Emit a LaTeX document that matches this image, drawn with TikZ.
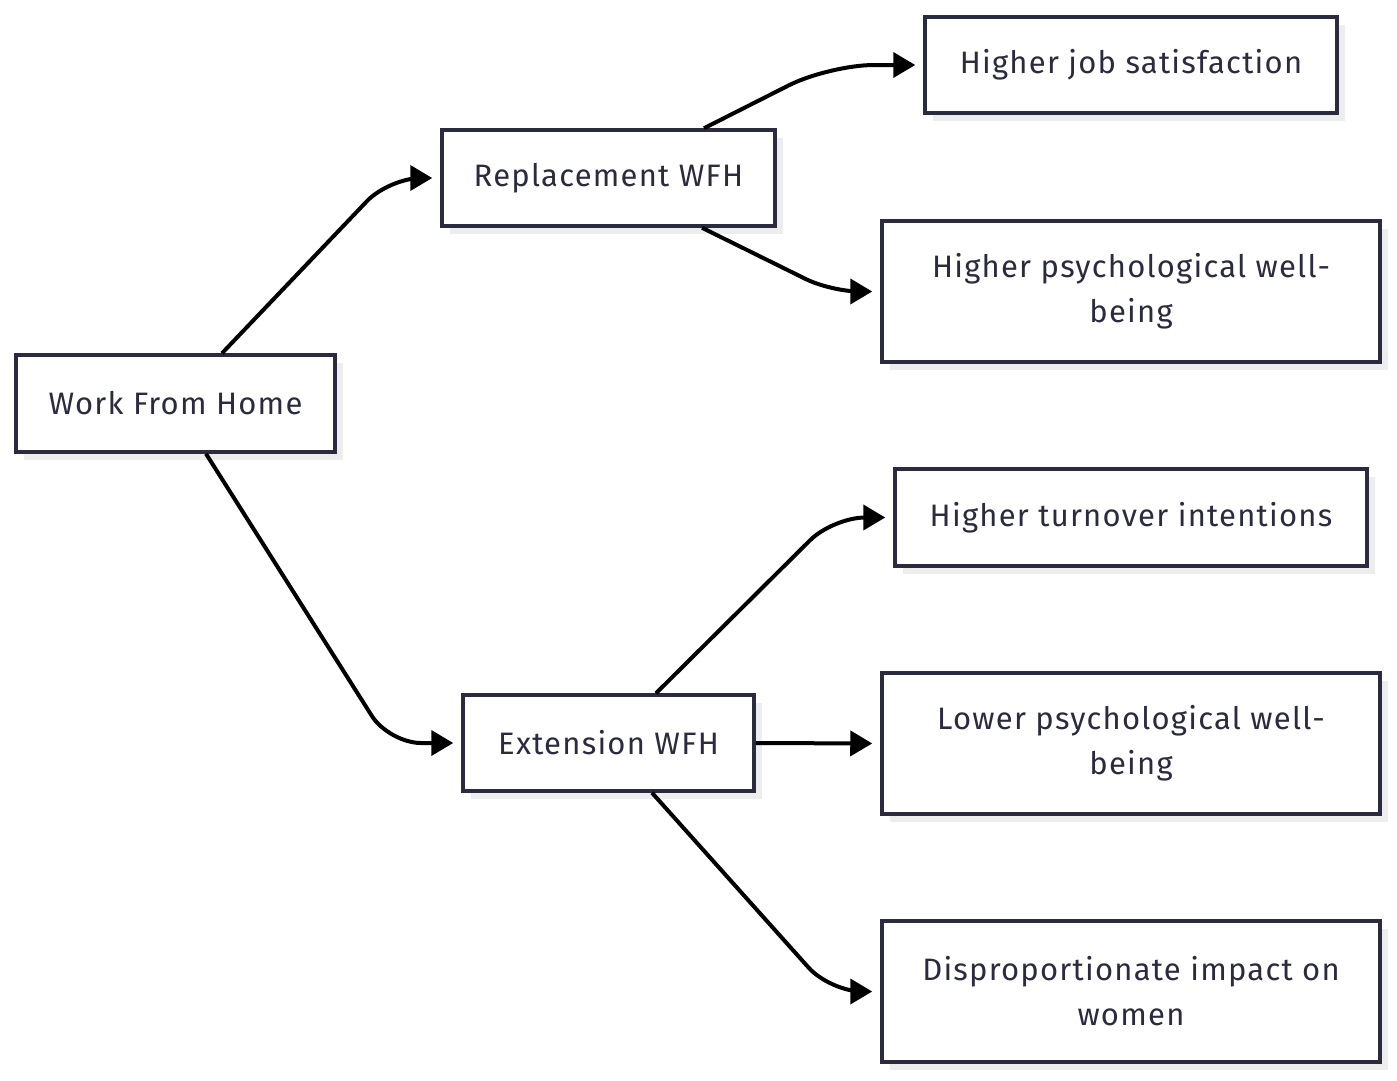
\documentclass[tikz,border=0pt]{standalone}
\usepackage{fontspec}
\setmainfont{Fira Sans}[LetterSpace=4]
\usetikzlibrary{arrows.meta,calc,shadows}
\definecolor{ink}{HTML}{2B2B40}
\definecolor{shade}{HTML}{EDEDED}
\begin{document}
\begin{tikzpicture}[x=1pt,y=-1pt,
  box/.style={draw=ink, line width=3.5pt, fill=white, text=ink, align=center,
    font=\fontsize{31}{45}\selectfont, inner sep=0pt,
    drop shadow={shadow xshift=8pt, shadow yshift=-8pt, fill=shade, opacity=1}},
  conn/.style={line width=4pt, draw=black, rounded corners=32pt,
    -{Triangle[length=22pt,width=25pt]}, shorten >=8pt}]
\useasboundingbox (0,0) rectangle (1397,1080);
\node[box, minimum width=319pt, minimum height=97pt] (wfh) at (175.5,403.5) {\raisebox{-2pt}{Work From Home}};
\node[box, minimum width=333pt, minimum height=96pt] (rep) at (608.5,178) {\raisebox{-2pt}{Replacement WFH}};
\node[box, minimum width=291pt, minimum height=96pt] (ext) at (608.5,743) {Extension WFH};
\node[box, minimum width=412pt, minimum height=96pt] (job) at (1131,65) {\raisebox{-2pt}{Higher job satisfaction}};
\node[box, minimum width=498pt, minimum height=141pt] (hpw) at (1131,291.5) {Higher psychological well-\\being};
\node[box, minimum width=472pt, minimum height=97pt] (turn) at (1131,517.5) {Higher turnover intentions};
\node[box, minimum width=498pt, minimum height=141pt] (lpw) at (1131,743.5) {Lower psychological well-\\being};
\node[box, minimum width=498pt, minimum height=141pt] (dis) at (1131,991.5) {Disproportionate impact on\\women};
\draw[conn] ($(wfh.north)+(46.5,0)$) -- (389,178) -- (rep.west);
\draw[conn] ($(wfh.south)+(30.5,0)$) -- (389,743) -- (ext.west);
\draw[conn, rounded corners=45pt] ($(rep.north)+(95.5,0)$) -- (829,65) -- (job.west);
\draw[conn, rounded corners=28pt] ($(rep.south)+(93.5,0)$) -- (831,291.5) -- (hpw.west);
\draw[conn] ($(ext.north)+(47.5,0)$) -- (833,517.5) -- (turn.west);
\draw[conn] (ext.east) -- (lpw.west);
\draw[conn] ($(ext.south)+(43.5,0)$) -- (830,991.5) -- (dis.west);
\end{tikzpicture}
\end{document}
